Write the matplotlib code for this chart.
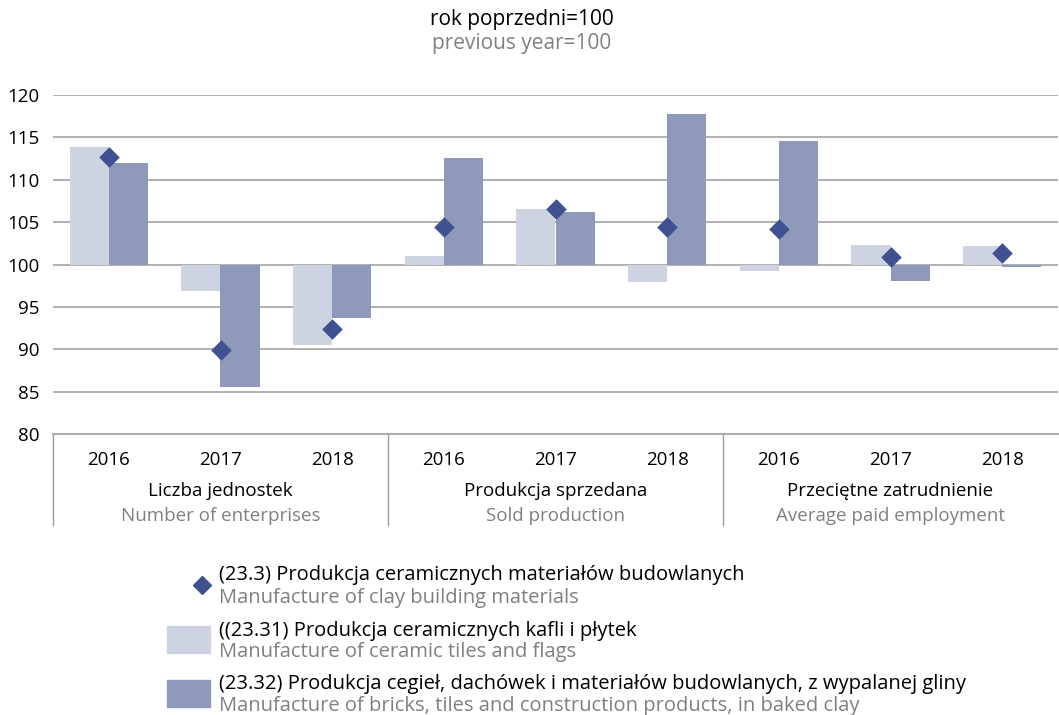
import numpy as np
import matplotlib
matplotlib.use("Agg")
import matplotlib.pyplot as plt
from matplotlib.patches import Rectangle
from matplotlib.lines import Line2D

# data (previous year = 100)
years = ['2016', '2017', '2018']
groups_pl = ['Liczba jednostek', 'Produkcja sprzedana', 'Przeciętne zatrudnienie']
groups_en = ['Number of enterprises', 'Sold production', 'Average paid employment']

clay_total = [112.7, 89.9, 92.4, 104.4, 106.5, 104.4, 104.2, 100.9, 101.4]   # 23.3
tiles = [113.9, 96.9, 90.5, 101.0, 106.5, 97.9, 99.2, 102.3, 102.2]         # 23.31
bricks = [112.0, 85.6, 93.7, 112.6, 106.2, 117.7, 114.6, 98.1, 99.7]        # 23.32

legend_pl = ['(23.3) Produkcja ceramicznych materiałów budowlanych',
             '((23.31) Produkcja ceramicznych kafli i płytek',
             '(23.32) Produkcja cegieł, dachówek i materiałów budowlanych, z wypalanej gliny']
legend_en = ['Manufacture of clay building materials',
             'Manufacture of ceramic tiles and flags',
             'Manufacture of bricks, tiles and construction products, in baked clay']

C_LIGHT = '#cdd3e1'
C_DARK = '#8e99bb'
C_DIAM = '#3f5190'
C_GRID = '#9b9b9b'
C_GREY_TXT = '#808080'

FS_AX = 13.5
FS_TITLE = 15
FS_LEG = 14.5

plt.rcParams['font.family'] = ['Open Sans', 'DejaVu Sans']

W, H = 1059, 715
fig = plt.figure(figsize=(W / 100, H / 100), dpi=100)
ax_left, ax_right, ax_top, ax_bot = 53, 1058, 95, 434
ax = fig.add_axes([ax_left / W, 1 - ax_bot / H, (ax_right - ax_left) / W, (ax_bot - ax_top) / H])

n = len(tiles)
x = np.arange(n)
bw = 0.352
tiles = np.array(tiles)
bricks = np.array(bricks)
ax.bar(x - bw / 2, tiles - 100, bottom=100, width=bw, color=C_LIGHT, zorder=2)
ax.bar(x + bw / 2, bricks - 100, bottom=100, width=bw, color=C_DARK, zorder=2)
ax.scatter(x, clay_total, marker='D', s=110, color=C_DIAM, zorder=3, linewidths=0)

ax.set_xlim(-0.5, n - 0.5)
ax.set_ylim(80, 120)
ax.set_yticks(range(80, 121, 5))
ax.tick_params(axis='y', length=0, labelsize=FS_AX, pad=10)
ax.set_xticks([])
for yv in range(85, 121, 5):
    ax.axhline(yv, color=C_GRID, lw=1.1, zorder=1)
for s in ['top', 'right', 'left']:
    ax.spines[s].set_visible(False)
ax.spines['bottom'].set_color('#b0b0b0')
ax.spines['bottom'].set_linewidth(1.5)

# category boxes under the axis
trans = ax.get_xaxis_transform()
ah = ax_bot - ax_top
box_depth = -(525 - 434) / ah
for sep in [-0.5, 2.5, 5.5]:
    ax.plot([sep, sep], [0, box_depth], color='#9b9b9b', lw=1, transform=trans, clip_on=False)
for i in range(n):
    ax.text(i, -(460 - 434) / ah, years[i % 3], transform=trans,
            ha='center', va='center', fontsize=FS_AX)
for g in range(3):
    ax.text(3 * g + 1, -(491 - 434) / ah, groups_pl[g], transform=trans,
            ha='center', va='center', fontsize=FS_AX)
    ax.text(3 * g + 1, -(516 - 434) / ah, groups_en[g], transform=trans,
            ha='center', va='center', fontsize=FS_AX, color=C_GREY_TXT)

# title
fig.text(522 / W, 1 - 20 / H, 'rok poprzedni=100', ha='center', va='center', fontsize=FS_TITLE)
fig.text(522 / W, 1 - 44 / H, 'previous year=100', ha='center', va='center', fontsize=FS_TITLE,
         color=C_GREY_TXT)

# legend drawn by hand
text_x = 219 / W
fig.add_artist(Line2D([202 / W], [1 - 585 / H], marker='D', markersize=9.5, color=C_DIAM,
                      linestyle='none', transform=fig.transFigure))
fig.add_artist(Rectangle((167 / W, 1 - 653 / H), 43 / W, 27 / H, color=C_LIGHT,
                         transform=fig.transFigure))
fig.add_artist(Rectangle((167 / W, 1 - 707 / H), 43 / W, 27 / H, color=C_DARK,
                         transform=fig.transFigure))
for i, (y1, y2) in enumerate([(575, 598), (631, 652), (684, 706)]):
    fig.text(text_x, 1 - y1 / H, legend_pl[i], ha='left', va='center', fontsize=FS_LEG)
    fig.text(text_x, 1 - y2 / H, legend_en[i], ha='left', va='center', fontsize=FS_LEG,
             color=C_GREY_TXT)

fig.savefig('out.png', dpi=100)
